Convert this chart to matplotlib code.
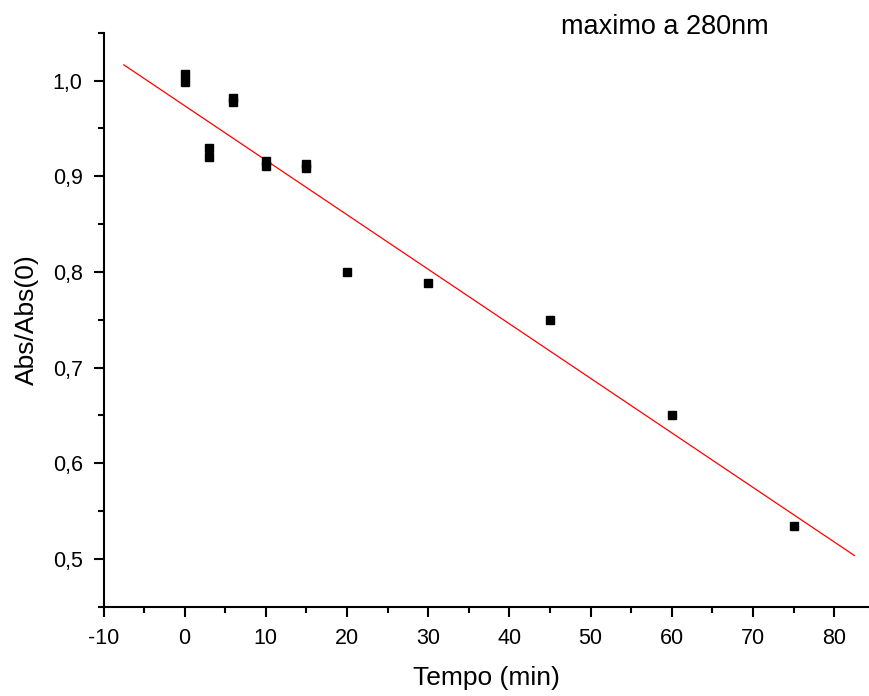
import matplotlib.pyplot as plt
from matplotlib.ticker import MultipleLocator, FuncFormatter

plt.rcParams['font.family'] = ['Liberation Sans', 'DejaVu Sans']
plt.rcParams['axes.unicode_minus'] = False

# measured points (time in min, normalised absorbance)
tempo = [0, 0, 3, 3, 6, 6, 10, 10, 15, 15, 20, 30, 45, 60, 75]
abs_rel = [1.007, 0.998, 0.929, 0.920, 0.982, 0.978, 0.916, 0.911,
           0.913, 0.909, 0.800, 0.788, 0.750, 0.650, 0.534]

# linear fit drawn as a red line (end points)
fit_x = [-7.5, 82.5]
fit_y = [1.0164, 0.5035]

fig = plt.figure(figsize=(8.69, 6.96), dpi=100)
ax = fig.add_axes([103.5 / 869, 89.3 / 696, 765.5 / 869, 574 / 696])

ax.plot(fit_x, fit_y, color='red', lw=0.9)
ax.plot(tempo, abs_rel, 's', color='black', ms=6.3, mec='black')

ax.set_xlim(-10, 84.3)
ax.set_ylim(0.45, 1.05)

ax.xaxis.set_major_locator(MultipleLocator(10))
ax.xaxis.set_minor_locator(MultipleLocator(5))
ax.yaxis.set_major_locator(MultipleLocator(0.1))
ax.yaxis.set_minor_locator(MultipleLocator(0.05))
ax.yaxis.set_major_formatter(FuncFormatter(lambda v, p: f'{v:.1f}'.replace('.', ',')))

for s in ['top', 'right']:
    ax.spines[s].set_visible(False)
for s in ['left', 'bottom']:
    ax.spines[s].set_linewidth(1.5)

ax.tick_params(which='major', direction='out', length=7, width=1.5, labelsize=15.5, pad=8)
ax.tick_params(which='minor', direction='out', length=4, width=1.5)

ax.set_xlabel('Tempo (min)', fontsize=19)
ax.set_ylabel('Abs/Abs(0)', fontsize=19)
ax.xaxis.set_label_coords(0.5, -0.103)
ax.yaxis.set_label_coords(-0.084, 0.5)

fig.text(665 / 869, 1 - 34.4 / 696, 'maximo a 280nm', fontsize=19.5,
         ha='center', va='baseline')

fig.savefig('out.png', dpi=100)
